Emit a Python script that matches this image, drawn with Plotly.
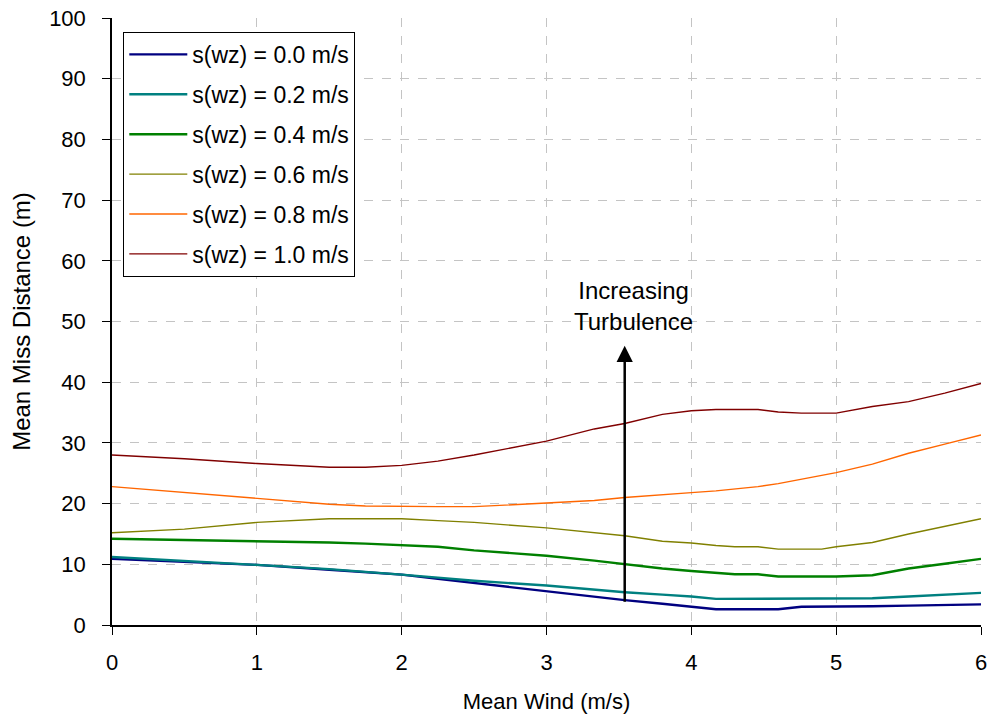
import plotly.graph_objects as go

# Mean wind speed (m/s)
wind = [0, 0.5, 1, 1.5, 1.75, 2, 2.25, 2.5, 3, 3.33, 3.54, 3.8, 4, 4.17,
        4.3, 4.46, 4.6, 4.76, 4.9, 5, 5.25, 5.5, 5.75, 6]

# Mean miss distance (m) for each vertical turbulence level
miss_00 = [10.9, 10.4, 9.9, 9.1, 8.7, 8.3, 7.6, 6.9, 5.5, 4.6, 4.1, 3.5, 3.0, 2.6,
           2.6, 2.6, 2.6, 3.0, 3.0, 3.0, 3.1, 3.2, 3.3, 3.4]
miss_02 = [11.2, 10.6, 9.9, 9.2, 8.8, 8.3, 7.8, 7.3, 6.5, 5.8, 5.4, 5.0, 4.7, 4.3,
           4.3, 4.3, 4.3, 4.3, 4.3, 4.3, 4.4, 4.7, 5.0, 5.3]
miss_04 = [14.2, 14.0, 13.9, 13.6, 13.4, 13.2, 12.9, 12.3, 11.4, 10.6, 10.0, 9.3, 8.9, 8.6,
           8.35, 8.35, 8.0, 8.0, 8.0, 8.0, 8.2, 9.3, 10.1, 10.9]
miss_06 = [15.2, 15.8, 16.9, 17.5, 17.5, 17.5, 17.2, 16.9, 16.0, 15.2, 14.7, 13.8, 13.5, 13.1,
           12.9, 12.9, 12.5, 12.5, 12.5, 12.9, 13.6, 15.0, 16.3, 17.5]
miss_08 = [22.8, 21.8, 20.8, 19.9, 19.6, 19.5, 19.5, 19.5, 20.1, 20.5, 21.0, 21.4, 21.8, 22.1,
           22.4, 22.8, 23.3, 24.0, 24.6, 25.1, 26.5, 28.3, 29.8, 31.3]
miss_10 = [28.0, 27.4, 26.6, 26.0, 26.0, 26.3, 27.0, 28.0, 30.3, 32.3, 33.2, 34.7, 35.3, 35.5,
           35.5, 35.5, 35.1, 34.9, 34.9, 34.9, 36.0, 36.8, 38.2, 39.8]

series_names = ["s(wz) = 0.0 m/s", "s(wz) = 0.2 m/s", "s(wz) = 0.4 m/s",
                "s(wz) = 0.6 m/s", "s(wz) = 0.8 m/s", "s(wz) = 1.0 m/s"]
series_values = [miss_00, miss_02, miss_04, miss_06, miss_08, miss_10]
series_colors = ["#000080", "#008080", "#008000", "#808000", "#ff6600", "#800000"]
series_widths = [2.4, 2.4, 2.4, 1.4, 1.4, 1.4]

x_ticks = [0, 1, 2, 3, 4, 5, 6]
y_ticks = [0, 10, 20, 30, 40, 50, 60, 70, 80, 90, 100]

font_family = "Liberation Sans, Arial, sans-serif"

fig = go.Figure()
for name, vals, color, w in zip(series_names, series_values, series_colors, series_widths):
    fig.add_trace(go.Scatter(
        x=wind, y=vals, mode="lines", name=name, legendgroup=name,
        line=dict(color=color, width=w),
    ))

# Arrow and label showing the direction of increasing turbulence
arrow_x = 3.54
fig.add_annotation(
    x=arrow_x, y=46, ax=arrow_x, ay=3.6, xref="x", yref="y", axref="x", ayref="y",
    showarrow=True, arrowhead=2, arrowsize=1.3, arrowwidth=2.5, arrowcolor="black", text="",
)
fig.add_annotation(
    x=3.6, y=52.6, xref="x", yref="y", text="Increasing<br>Turbulence", showarrow=False,
    font=dict(family=font_family, size=24, color="black"), align="center",
)

axis_common = dict(
    showline=True, linecolor="black", linewidth=1.5, mirror=False,
    ticks="outside", ticklen=8, tickcolor="black", tickwidth=1,
    showgrid=True, gridcolor="#c4c4c4", griddash="dash", gridwidth=1,
    zeroline=False, automargin=False,
    tickfont=dict(family=font_family, size=22, color="black"),
)

fig.update_layout(
    width=991, height=719,
    margin=dict(l=112, r=10, t=18, b=94),
    paper_bgcolor="white", plot_bgcolor="white",
    font=dict(family=font_family, color="black"),
    xaxis=dict(
        range=[0, 6], tickvals=x_ticks, ticklabelstandoff=9,
        title=dict(text="Mean Wind (m/s)", font=dict(size=22), standoff=19),
        **axis_common,
    ),
    yaxis=dict(
        range=[0, 100], tickvals=y_ticks, ticklabelstandoff=12,
        title=dict(text="Mean Miss Distance (m)", font=dict(size=24), standoff=12),
        **axis_common,
    ),
    legend=dict(
        x=0.013, y=0.977, xanchor="left", yanchor="top",
        bordercolor="black", borderwidth=1, bgcolor="white",
        font=dict(family=font_family, size=23, color="black"),
        tracegroupgap=7, itemwidth=58,
    ),
    showlegend=True,
)

fig.write_html("out.html")
